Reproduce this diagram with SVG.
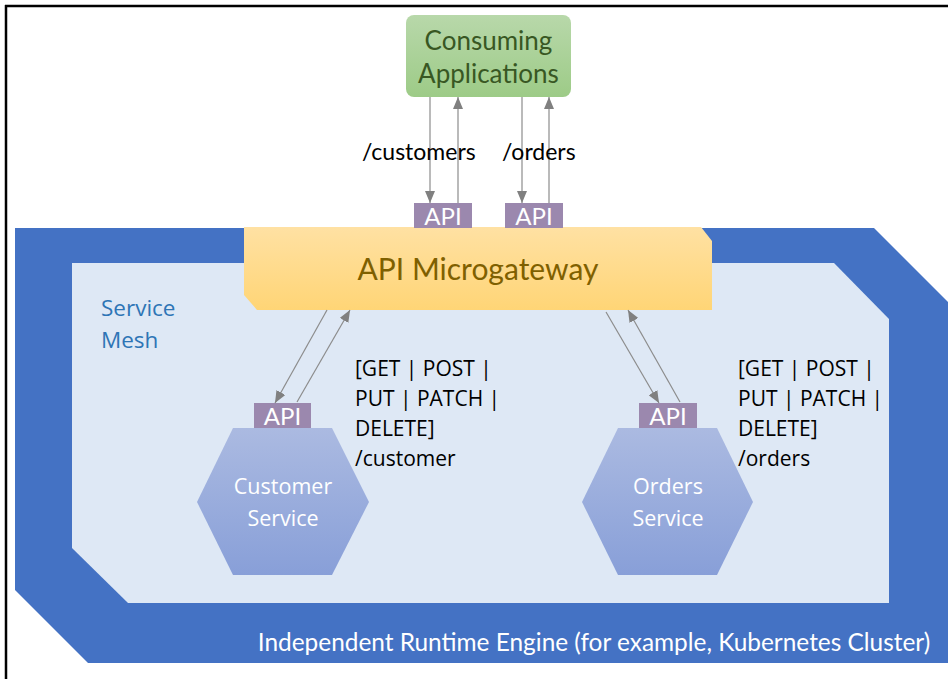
<svg xmlns="http://www.w3.org/2000/svg" width="948" height="679" viewBox="0 0 948 679">
  <defs>
    <linearGradient id="gGreen" x1="0" y1="0" x2="0" y2="1">
      <stop offset="0" stop-color="#b8d8aa"/>
      <stop offset="1" stop-color="#9dcb87"/>
    </linearGradient>
    <linearGradient id="gGold" x1="0" y1="0" x2="0" y2="1">
      <stop offset="0" stop-color="#ffe1a3"/>
      <stop offset="1" stop-color="#ffd576"/>
    </linearGradient>
    <linearGradient id="gHex" x1="0" y1="0" x2="0" y2="1">
      <stop offset="0" stop-color="#abbae1"/>
      <stop offset="1" stop-color="#889fd8"/>
    </linearGradient>
    <marker id="arr" viewBox="0 0 12 10" refX="12" refY="5" markerWidth="12" markerHeight="10" markerUnits="userSpaceOnUse" orient="auto">
      <path d="M0,0 L12,5 L0,10 Z" fill="#808080"/>
    </marker>
    <style>
      .conn { stroke: #8c8c8c; stroke-width: 1.2; fill: none; marker-end: url(#arr); }
      .api rect { fill: #9b88ae; }
      .api text { fill: #ffffff; font-family: Lato, "Liberation Sans", sans-serif; font-size: 24px; text-anchor: middle; }
      .lbl { fill: #000000; font-family: "Open Sans", "Liberation Sans", sans-serif; font-size: 21px; }
      .clbl { fill: #000000; font-family: Lato, "Liberation Sans", sans-serif; font-size: 23px; }
      .hex text { fill: #ffffff; font-family: "Open Sans", "Liberation Sans", sans-serif; font-size: 21.5px; text-anchor: middle; }
    </style>
  </defs>

  <rect x="0" y="0" width="948" height="679" fill="#ffffff"/>
  <g id="frame">
    <line x1="5" y1="6" x2="948" y2="6" stroke="#000" stroke-width="2.5"/>
    <line x1="6" y1="5" x2="6" y2="679" stroke="#000" stroke-width="2.5"/>
  </g>

  <g id="runtime-engine">
    <polygon points="15,228 874,228 948,302 948,663 88,663 15,590" fill="#4472c4"/>
    <text x="594" y="651" fill="#ffffff" font-family="Lato, 'Liberation Sans', sans-serif" font-size="24.4" text-anchor="middle">Independent Runtime Engine (for example, Kubernetes Cluster)</text>
  </g>

  <g id="service-mesh">
    <polygon points="72,263 834,263 889,319 889,603 128,603 72,548" fill="#dee8f5"/>
    <text x="101" y="316" fill="#2e75b6" font-family="'Open Sans', 'Liberation Sans', sans-serif" font-size="22.5">Service</text>
    <text x="101" y="348" fill="#2e75b6" font-family="'Open Sans', 'Liberation Sans', sans-serif" font-size="22.5">Mesh</text>
  </g>

  <g id="consuming-applications">
    <rect x="406" y="15" width="165" height="82" rx="8" fill="url(#gGreen)"/>
    <text x="488.5" y="50" fill="#385723" font-family="Lato, 'Liberation Sans', sans-serif" font-size="26" text-anchor="middle">Consuming</text>
    <text x="488.5" y="83" fill="#385723" font-family="Lato, 'Liberation Sans', sans-serif" font-size="26" text-anchor="middle">Applications</text>
  </g>

  <g id="api-microgateway">
    <polygon points="244,227 701,227 712,241 712,310 257,310 244,295" fill="url(#gGold)"/>
    <text x="478" y="280" fill="#7f6000" font-family="Lato, 'Liberation Sans', sans-serif" font-size="30" text-anchor="middle">API Microgateway</text>
  </g>

  <g id="api-customers" class="api">
    <rect x="414" y="203" width="58" height="25"/>
    <text x="443" y="225">API</text>
  </g>
  <g id="api-orders" class="api">
    <rect x="505" y="203" width="58" height="25"/>
    <text x="534" y="225">API</text>
  </g>

  <g id="customer-service" class="hex">
    <polygon points="233,428 332,428 369,502 332,575 233,575 197,502" fill="url(#gHex)"/>
    <text x="283" y="494">Customer</text>
    <text x="283" y="526">Service</text>
  </g>
  <g id="api-customer-service" class="api">
    <rect x="254" y="403" width="57" height="25"/>
    <text x="282.5" y="425">API</text>
  </g>

  <g id="orders-service" class="hex">
    <polygon points="618,428 717,428 753,502 717,575 618,575 582,502" fill="url(#gHex)"/>
    <text x="668" y="494">Orders</text>
    <text x="668" y="526">Service</text>
  </g>
  <g id="api-orders-service" class="api">
    <rect x="639" y="403" width="58" height="25"/>
    <text x="668" y="425">API</text>
  </g>

  <g id="connectors">
    <line class="conn" x1="430" y1="97" x2="430" y2="203"/>
    <line class="conn" x1="458" y1="203" x2="458" y2="97"/>
    <line class="conn" x1="522" y1="97" x2="522" y2="203"/>
    <line class="conn" x1="549" y1="203" x2="549" y2="97"/>
    <line class="conn" x1="327" y1="310" x2="275" y2="403"/>
    <line class="conn" x1="297" y1="402" x2="350" y2="310"/>
    <line class="conn" x1="606" y1="312" x2="659" y2="403"/>
    <line class="conn" x1="680" y1="402" x2="628" y2="310"/>
  </g>

  <g id="labels">
    <text class="clbl" x="362" y="160">/customers</text>
    <text class="clbl" x="502" y="160">/orders</text>
    <text class="lbl" x="355" y="376">[GET | POST |</text>
    <text class="lbl" x="355" y="406">PUT | PATCH |</text>
    <text class="lbl" x="355" y="436">DELETE]</text>
    <text class="lbl" x="355" y="466">/customer</text>
    <text class="lbl" x="738" y="376">[GET | POST |</text>
    <text class="lbl" x="738" y="406">PUT | PATCH |</text>
    <text class="lbl" x="738" y="436">DELETE]</text>
    <text class="lbl" x="738" y="466">/orders</text>
  </g>
</svg>
